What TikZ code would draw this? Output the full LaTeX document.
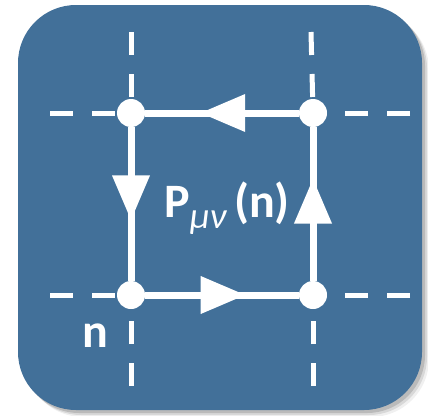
\documentclass[tikz,border=0pt]{standalone}
\usepackage{fontspec}
\setmainfont{Carlito}
\usetikzlibrary{arrows.meta,calc}
\definecolor{tileblue}{RGB}{66,112,153}
\tikzset{
  site/.style={circle,fill=white,inner sep=0pt,minimum size=28pt,outer sep=0pt},
  link/.style={white,line width=7pt},
  grid/.style={white,line width=5pt,dash pattern=on 23pt off 19pt},
  flow/.style={white,line width=7pt,-{Triangle[length=45pt,width=36pt]}},
  tag/.style={white,font=\fontsize{48}{48}\selectfont\bfseries,inner sep=0pt}
}

\begin{document}
\begin{tikzpicture}[x=1pt,y=-1pt]
\useasboundingbox (0,0) rectangle (428,415);

% tile with its shadow
\foreach \s/\o in {7/0.06,5/0.10,3/0.14}
  \fill[black,opacity=\o,rounded corners=58pt] (18+\s,5+\s) rectangle (422+\s,410+\s);
\fill[tileblue,rounded corners=58pt] (18,5) rectangle (422,410);

% lattice sites
\node[site] (tl) at (131,113) {};
\node[site] (tr) at (313,113) {};
\node[site] (bl) at (131,295) {};
\node[site] (br) at (313,295) {};

% ends of the dashed grid
\coordinate (tlN) at (131,32);
\coordinate (trN) at (311,32);
\coordinate (blS) at (131,386);
\coordinate (brS) at (313,386);
\coordinate (tlW) at (50,113);
\coordinate (blW) at (50,295);
\coordinate (trE) at (410,113);
\coordinate (brE) at (410,295);

\draw[grid] (tlN) -- (tl);
\draw[grid] (trN) -- (tr);
\draw[grid] (blS) -- (bl);
\draw[grid] (brS) -- (br);
\draw[grid] (tlW) -- (tl);
\draw[grid] (blW) -- (bl);
\draw[grid] (trE) -- (tr);
\draw[grid] (brE) -- (br);

% the plaquette
\draw[link] (tl) -- (tr);
\draw[link] (tr) -- (br);
\draw[link] (br) -- (bl);
\draw[link] (bl) -- (tl);

\draw[flow] (tr) -- ($(tr)!0.62!(tl)$);
\draw[flow] (tl) -- ($(tl)!0.59!(bl)$);
\draw[flow] (bl) -- ($(bl)!0.63!(br)$);
\draw[flow] (br) -- ($(br)!0.64!(tr)$);

\node[tag] (plaq) at (227,208) {P\raisebox{-11pt}{\fontsize{37}{37}\selectfont\mdseries\itshape μν}\,(n)};
\node[tag] (sitelabel) at (95,336) {n};

\end{tikzpicture}
\end{document}
